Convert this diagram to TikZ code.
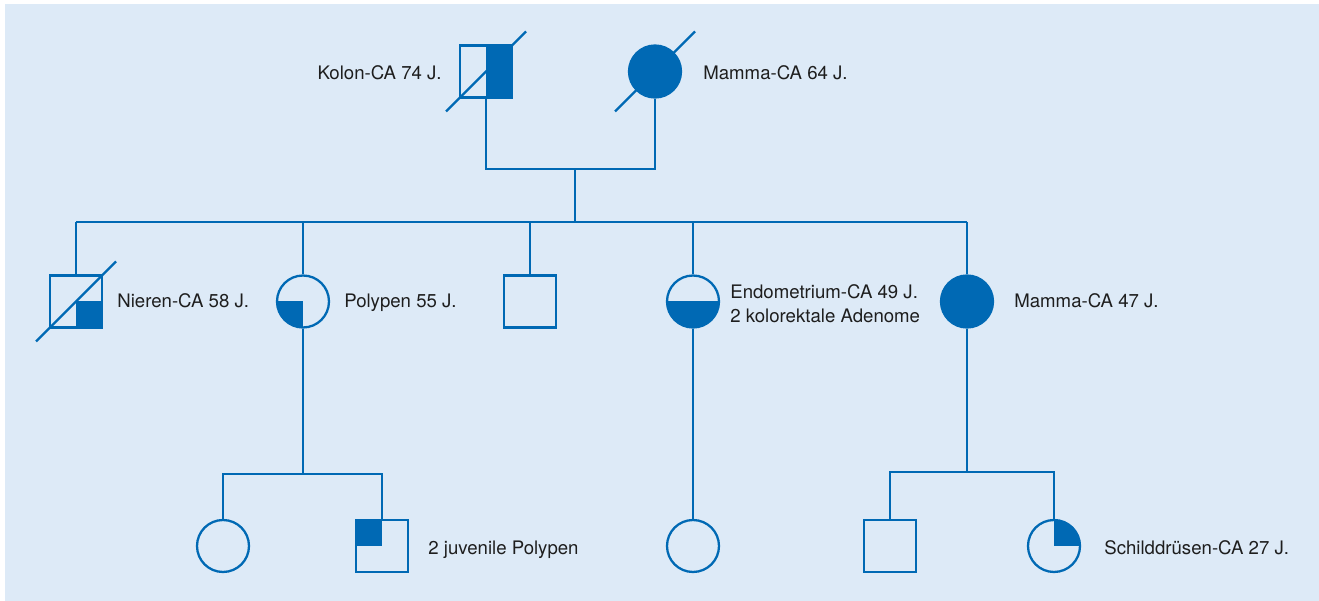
\documentclass[tikz,border=0pt]{standalone}
\usepackage{fontspec}
\setmainfont{TeX Gyre Heros}

\definecolor{pedblue}{HTML}{0069B4}
\definecolor{pedbg}{HTML}{DDEAF7}
\definecolor{pedtext}{HTML}{1E1E1E}

\tikzset{
  person/.style={draw=pedblue, line width=1.3pt, inner sep=0pt, minimum size=1.04cm},
  male/.style={person, rectangle},
  female/.style={person, circle},
  affall/.style={fill=pedblue},
  affright/.style={path picture={\fill[pedblue] (path picture bounding box.north) rectangle (path picture bounding box.south east);}},
  affbottom/.style={path picture={\fill[pedblue] (path picture bounding box.west) rectangle (path picture bounding box.south east);}},
  affbr/.style={path picture={\fill[pedblue] (path picture bounding box.center) rectangle (path picture bounding box.south east);}},
  affbl/.style={path picture={\fill[pedblue] (path picture bounding box.center) rectangle (path picture bounding box.south west);}},
  afftl/.style={path picture={\fill[pedblue] (path picture bounding box.center) rectangle (path picture bounding box.north west);}},
  afftr/.style={path picture={\fill[pedblue] (path picture bounding box.center) rectangle (path picture bounding box.north east);}},
  pedline/.style={draw=pedblue, line width=1.3pt},
  lbl/.style={inner sep=0pt, text=pedtext, font=\fontsize{10.6}{13.3}\selectfont, align=left}
}

\begin{document}
\begin{tikzpicture}[x=0.02cm, y=-0.02cm]

  \useasboundingbox (0,0) rectangle (1319,601);
  \fill[pedbg] (5,4) rectangle (1319,601);

  % grandparents
  \node[male, affright]  (kolon)  at (486,71.5) {};
  \node[female, affall]  (mammaA) at (655,71.5) {};

  % children
  \node[male, affbr]       (nieren)  at (76,301.5)  {};
  \node[female, affbl]     (polypen) at (303,301.5) {};
  \node[male]              (brother) at (530,301.5) {};
  \node[female, affbottom] (endo)    at (693,301.5) {};
  \node[female, affall]    (mammaB)  at (967,301.5) {};

  % grandchildren
  \node[female]         (girl1)  at (223,546)  {};
  \node[male, afftl]    (boy1)   at (382,546)  {};
  \node[female]         (girl2)  at (693,546)  {};
  \node[male]           (boy2)   at (890,546)  {};
  \node[female, afftr]  (schild) at (1054,546) {};

  % labels
  \node[lbl, anchor=base east] (lkolon)  at (442,80)  {Kolon-CA 74 J.};
  \node[lbl, anchor=base west] (lmammaA) at (703,80)  {Mamma-CA 64 J.};
  \node[lbl, anchor=base west] (lnieren) at (117,308) {Nieren-CA 58 J.};
  \node[lbl, anchor=base west] (lpolyp)  at (344,308) {Polypen 55 J.};
  \node[lbl, anchor=base west] (lendo)   at (730,322) {Endometrium-CA 49 J.\\2 kolorektale Adenome};
  \node[lbl, anchor=base west] (lmammaB) at (1014,308) {Mamma-CA 47 J.};
  \node[lbl, anchor=base west] (lboy1)   at (428,554) {2 juvenile Polypen};
  \node[lbl, anchor=base west] (lschild) at (1104,554) {Schilddrüsen-CA 27 J.};

  % deceased
  \foreach \n in {kolon,mammaA,nieren}
    \draw[pedline] ([shift={(-40,40)}]\n.center) -- ([shift={(40,-40)}]\n.center);

  % lines of descent
  \coordinate (parents) at (575,169);
  \coordinate (sibs)    at (575,222);
  \coordinate (kidsP)   at (303,474);
  \coordinate (kidsM)   at (967,472);

  \draw[pedline] (kolon) |- (parents) -| (mammaA);
  \draw[pedline] (parents) -- (sibs);
  \draw[pedline] (nieren |- sibs) -- (mammaB |- sibs);
  \foreach \n in {nieren,polypen,brother,endo,mammaB}
    \draw[pedline] (\n |- sibs) -- (\n);

  \draw[pedline] (polypen) -- (kidsP);
  \draw[pedline] (girl1) |- (kidsP) -| (boy1);
  \draw[pedline] (endo) -- (girl2);
  \draw[pedline] (mammaB) -- (kidsM);
  \draw[pedline] (boy2) |- (kidsM) -| (schild);

\end{tikzpicture}
\end{document}
